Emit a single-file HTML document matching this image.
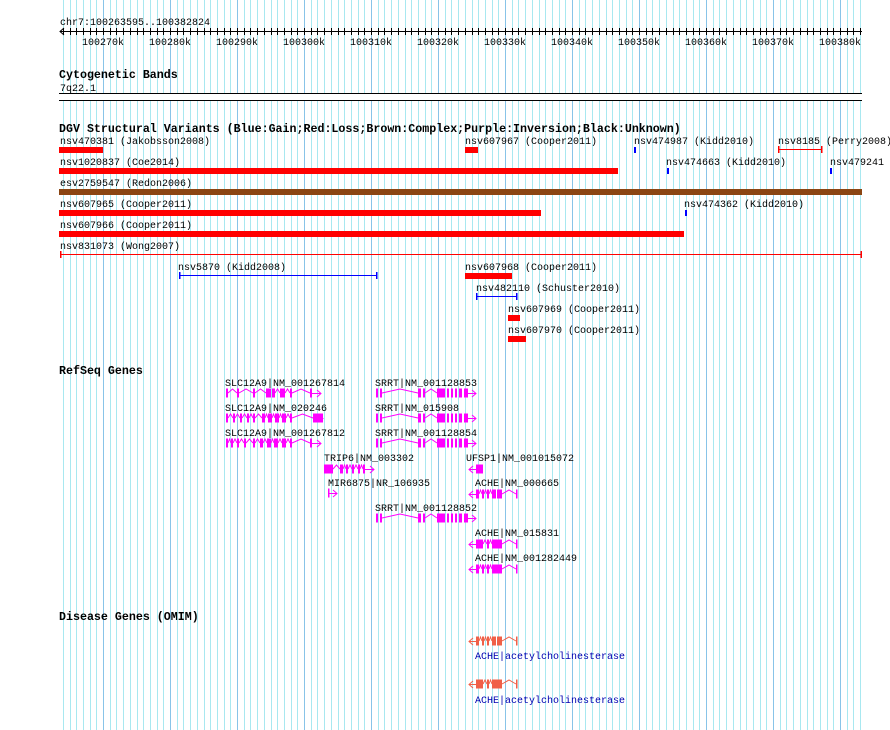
<!DOCTYPE html>
<html><head><meta charset="utf-8"><style>
body{margin:0;background:#fff}
svg{display:block}
text{font-family:"Liberation Mono","DejaVu Sans Mono",monospace;font-size:10px;fill:#000}
.b{font-weight:bold;font-size:11.65px}
</style></head><body>
<svg id="s" width="890" height="730" xmlns="http://www.w3.org/2000/svg" shape-rendering="crispEdges">
<g id="grid"></g>
<rect x="58" y="93" width="806" height="8" fill="#fff"/>
<rect x="60" y="31" width="802" height="1" fill="#000"/>
<g id="ticks"></g>
<polyline points="64,28 60,31.5 64,35" fill="none" stroke="#000" shape-rendering="auto"/>
<text x="60" y="25">chr7:100263595..100382824</text>
<g text-anchor="middle">
<text x="103" y="45">100270k</text><text x="170" y="45">100280k</text><text x="237" y="45">100290k</text><text x="304" y="45">100300k</text><text x="371" y="45">100310k</text><text x="438" y="45">100320k</text><text x="505" y="45">100330k</text><text x="572" y="45">100340k</text><text x="639" y="45">100350k</text><text x="706" y="45">100360k</text><text x="773" y="45">100370k</text><text x="840" y="45">100380k</text>
</g>
<text class="b" x="59" y="78">Cytogenetic Bands</text>
<text x="60" y="91">7q22.1</text>
<rect x="59" y="93" width="803" height="1" fill="#000"/>
<rect x="59" y="100" width="803" height="1" fill="#000"/>
<text class="b" x="59" y="132">DGV Structural Variants (Blue:Gain;Red:Loss;Brown:Complex;Purple:Inversion;Black:Unknown)</text>
<text x="60" y="144">nsv470381 (Jakobsson2008)</text>
<rect x="59" y="147" width="44" height="6" fill="#f00"/>
<text x="465" y="144">nsv607967 (Cooper2011)</text>
<rect x="465" y="147" width="13" height="6" fill="#f00"/>
<text x="634" y="144">nsv474987 (Kidd2010)</text>
<rect x="634" y="147" width="2" height="6" fill="#00f"/>
<text x="778" y="144">nsv8185 (Perry2008)</text>
<rect x="779" y="149" width="42" height="1" fill="#f00"/><rect x="778" y="146" width="1.3" height="7" fill="#f00"/><rect x="821" y="146" width="1.3" height="7" fill="#f00"/>
<text x="60" y="165">nsv1020837 (Coe2014)</text>
<rect x="59" y="168" width="559" height="6" fill="#f00"/>
<text x="666" y="165">nsv474663 (Kidd2010)</text>
<rect x="667" y="168" width="2" height="6" fill="#00f"/>
<text x="830" y="165">nsv479241</text>
<rect x="830" y="168" width="2" height="6" fill="#00f"/>
<text x="60" y="186">esv2759547 (Redon2006)</text>
<rect x="59" y="189" width="803" height="6" fill="#8b4513"/>
<text x="60" y="207">nsv607965 (Cooper2011)</text>
<rect x="59" y="210" width="482" height="6" fill="#f00"/>
<text x="684" y="207">nsv474362 (Kidd2010)</text>
<rect x="685" y="210" width="2" height="6" fill="#00f"/>
<text x="60" y="228">nsv607966 (Cooper2011)</text>
<rect x="59" y="231" width="625" height="6" fill="#f00"/>
<text x="60" y="249">nsv831073 (Wong2007)</text>
<rect x="60" y="254" width="802" height="1" fill="#f00"/><rect x="60" y="251" width="1.3" height="7" fill="#f00"/><rect x="860.7" y="251" width="1.3" height="7" fill="#f00"/>
<text x="178" y="270">nsv5870 (Kidd2008)</text>
<rect x="179" y="275" width="198" height="1" fill="#00f"/><rect x="179" y="272" width="1.3" height="7" fill="#00f"/><rect x="376" y="272" width="1.3" height="7" fill="#00f"/>
<text x="465" y="270">nsv607968 (Cooper2011)</text>
<rect x="465" y="273" width="47" height="6" fill="#f00"/>
<text x="476" y="291">nsv482110 (Schuster2010)</text>
<rect x="476" y="296" width="40" height="1" fill="#00f"/><rect x="476" y="293" width="1.3" height="7" fill="#00f"/><rect x="516" y="293" width="1.3" height="7" fill="#00f"/>
<text x="508" y="312">nsv607969 (Cooper2011)</text>
<rect x="508" y="315" width="12" height="6" fill="#f00"/>
<text x="508" y="333">nsv607970 (Cooper2011)</text>
<rect x="508" y="336" width="18" height="6" fill="#f00"/>

<text class="b" x="59" y="374">RefSeq Genes</text>
<text x="225" y="386">SLC12A9|NM_001267814</text>
<text x="225" y="411">SLC12A9|NM_020246</text>
<text x="225" y="436">SLC12A9|NM_001267812</text>
<text x="375" y="386">SRRT|NM_001128853</text>
<text x="375" y="411">SRRT|NM_015908</text>
<text x="375" y="436">SRRT|NM_001128854</text>
<text x="324" y="461">TRIP6|NM_003302</text>
<text x="466" y="461">UFSP1|NM_001015072</text>
<text x="328" y="486">MIR6875|NR_106935</text>
<text x="475" y="486">ACHE|NM_000665</text>
<text x="375" y="511">SRRT|NM_001128852</text>
<text x="475" y="536">ACHE|NM_015831</text>
<text x="475" y="561">ACHE|NM_001282449</text>
<text class="b" x="59" y="620">Disease Genes (OMIM)</text>
<text x="475" y="659" style="fill:#0000b0">ACHE|acetylcholinesterase</text>
<text x="475" y="703" style="fill:#0000b0">ACHE|acetylcholinesterase</text>
<g id="g" shape-rendering="auto"></g>
</svg>
<script>
var NS='http://www.w3.org/2000/svg';
function mk(p,t,a){var e=document.createElementNS(NS,t);for(var k in a)e.setAttribute(k,a[k]);p.appendChild(e);}
var gr=document.getElementById('grid'),tk=document.getElementById('ticks');
for(var i=-6;i<=113;i++){var x=Math.round(103+i*6.7);if(x<60||x>862)continue;
 var maj=(i%10===0);
 mk(gr,'rect',{x:x,y:0,width:1,height:730,fill:maj?'#88c4e8':'#a8e8f0'});
 mk(tk,'rect',{x:x,y:28,width:1,height:7,fill:'#000'});}
var g=document.getElementById('g');
function el(t,a){mk(g,t,a);}
function gene(y,s,e,ex,dir,c){
 for(var i=0;i<ex.length-1;i++){var a=ex[i][0]+ex[i][1],b=ex[i+1][0];if(b-a>2){var m=(a+b)/2;el('polyline',{points:a+','+y+' '+m+','+(y-4)+' '+b+','+y,fill:'none',stroke:c,'stroke-width':1});}}
 var f=ex[0][0],l=ex[ex.length-1][0]+ex[ex.length-1][1];
 if(dir>0){el('line',{x1:l,y1:y+.5,x2:e,y2:y+.5,stroke:c});el('polyline',{points:(e-4)+','+(y-3)+' '+e+','+(y+.5)+' '+(e-4)+','+(y+4),fill:'none',stroke:c});}
 else{el('line',{x1:s,y1:y+.5,x2:f,y2:y+.5,stroke:c});el('polyline',{points:(s+4)+','+(y-3)+' '+s+','+(y+.5)+' '+(s+4)+','+(y+4),fill:'none',stroke:c});}
 ex.forEach(function(x){el('rect',{x:x[0],y:y-4.5,width:x[1],height:9,fill:c});});
}
var M='#ff00ff',O='#f06048';
var sl1=[[226,2],[237,2],[253,2],[266,5],[272,3],[280,5],[290,2],[310,2]];
var sl2=[[226,2],[233,2],[240,2],[247,2],[253,2],[262,3],[268,4],[275,4],[282,4],[290,2],[313,10]];
var sl3=[[226,2],[231,2],[237,2],[244,2],[253,2],[260,3],[267,4],[274,4],[282,4],[290,2],[310,2]];
gene(393,226,321,sl1,1,M);gene(418,226,323,sl2,1,M);gene(443,226,321,sl3,1,M);
var sr=[[376,2],[380,2],[418,3],[423,2],[437,8],[447,2],[451,2],[455,2],[459,3],[464,4]];
gene(393,376,476,sr,1,M);gene(418,376,476,sr,1,M);gene(443,376,476,sr,1,M);gene(518,376,476,sr,1,M);
gene(469,324,374,[[324,9],[340,3],[346,2],[352,2],[358,2],[363,2]],1,M);
gene(493,328,337,[[328,1.5]],1,M);
gene(469,469,483,[[476,7]],-1,M);
var ac=[[476,3],[482,2],[487,2],[492,4],[497,5],[516,1.5]];
gene(494,469,517,ac,-1,M);gene(544,469,517,[[476,7],[487,2],[492,10],[516,1.5]],-1,M);gene(569,469,517,[[476,3],[482,2],[487,2],[492,10],[516,1.5]],-1,M);
gene(641,469,517,ac,-1,O);gene(684,469,517,[[476,7],[487,2],[492,10],[516,1.5]],-1,O);
</script>
</body></html>
